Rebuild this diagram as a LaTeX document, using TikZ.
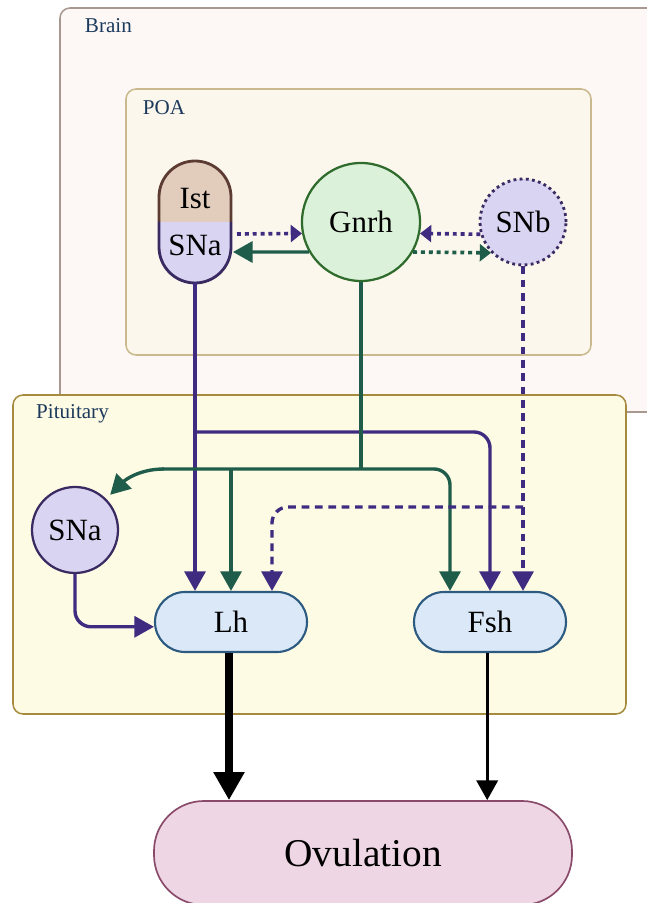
\documentclass[tikz,border=0pt]{standalone}
\usepackage{fontspec}
\setmainfont{Liberation Serif}
\usetikzlibrary{arrows.meta,positioning,calc}

\definecolor{brainfill}{HTML}{FDF8F6}
\definecolor{brainline}{HTML}{A8988F}
\definecolor{poafill}{HTML}{FBF7EC}
\definecolor{poaline}{HTML}{C9B98C}
\definecolor{pitfill}{HTML}{FEFBE5}
\definecolor{pitline}{HTML}{A68B3F}
\definecolor{labelblue}{HTML}{1C3A5C}
\definecolor{istfill}{HTML}{E2CCBC}
\definecolor{istline}{HTML}{5C3B33}
\definecolor{snafill}{HTML}{D9D4F1}
\definecolor{snaline}{HTML}{3A2A62}
\definecolor{gnrhfill}{HTML}{DCF1D9}
\definecolor{gnrhline}{HTML}{2F6B2C}
\definecolor{lhfill}{HTML}{DAE8F7}
\definecolor{lhline}{HTML}{2C5A80}
\definecolor{ovfill}{HTML}{EFD6E4}
\definecolor{ovline}{HTML}{8A4A6A}
\definecolor{purpleline}{HTML}{3F2B80}
\definecolor{greenline}{HTML}{1F5C4A}

\tikzset{
  region/.style = {rounded corners = 0.25cm, line width = 1.1pt},
  regionlabel/.style = {anchor = west, text = labelblue, font = \fontsize{15}{18}\selectfont},
  nodetext/.style = {font = \fontsize{22}{26}\selectfont},
  sacircle/.style = {circle, draw = snaline, fill = snafill, line width = 1.6pt, minimum size = 2.15cm, nodetext},
  hormone/.style = {rectangle, rounded corners = 0.75cm, draw = lhline, fill = lhfill, line width = 1.5pt,
                    minimum width = 3.8cm, minimum height = 1.5cm, nodetext},
  purplearrow/.style = {color = purpleline, line width = 2.4pt, -{Triangle[width = 15pt, length = 14pt]}},
  greenarrow/.style = {color = greenline, line width = 2.4pt, -{Triangle[width = 15pt, length = 14pt]}},
  dashpurple/.style = {purplearrow, dash pattern = on 5.5pt off 4pt},
  dotpurple/.style = {color = purpleline, line width = 2.6pt, dash pattern = on 2.8pt off 2.8pt,
                      -{Triangle[width = 12pt, length = 8pt]}},
  dotgreen/.style = {dotpurple, color = greenline}
}

\begin{document}
\begin{tikzpicture}
\useasboundingbox (0,0) rectangle (16.175,22.575);
% regions
\draw[region, draw = brainline, fill = brainfill] (1.5,12.275) rectangle (16.6,22.375);
\node[regionlabel] (brainlabel) at (2.0,21.93) {Brain};
\draw[region, draw = poaline, fill = poafill] (3.15,13.7) rectangle (14.775,20.35);
\node[regionlabel] (poalabel) at (3.45,19.88) {POA};
\draw[region, draw = pitline, fill = pitfill] (0.325,4.725) rectangle (15.65,12.7);
\node[regionlabel] (pitlabel) at (0.78,12.22) {Pituitary};

% Ist / SNa pill
\node[rectangle, minimum width = 1.8cm, minimum height = 3.05cm, inner sep = 0, outer sep = 0] (pill) at (4.875,17.025) {};
\fill[istfill] (pill.west) -- ++(0,0.625) arc [start angle = 180, end angle = 0, radius = 0.9] -- (pill.east) -- cycle;
\fill[snafill] (pill.west) -- ++(0,-0.625) arc [start angle = 180, end angle = 360, radius = 0.9] -- (pill.east) -- cycle;
\draw[istline, line width = 2pt] (pill.west) -- ++(0,0.625) arc [start angle = 180, end angle = 0, radius = 0.9] -- (pill.east);
\draw[snaline, line width = 2pt] (pill.west) -- ++(0,-0.625) arc [start angle = 180, end angle = 360, radius = 0.9] -- (pill.east);
\node[nodetext] (ist) at (4.875,17.62) {Ist};
\node[nodetext] (snapoa) at (4.875,16.44) {SNa};

% nodes
\node[circle, draw = gnrhline, fill = gnrhfill, line width = 1.6pt, minimum size = 2.95cm, nodetext] (gnrh) at (9.025,17.025) {Gnrh};
\node[sacircle, line width = 2pt, dash pattern = on 2pt off 2.4pt] (snb) at (13.075,17.025) {SNb};
\node[sacircle] (sna) at (1.875,9.325) {SNa};
\node[hormone] (lh) at (5.775,7.025) {Lh};
\node[hormone] (fsh) at (12.25,7.025) {Fsh};
\node[rectangle, rounded corners = 1.25cm, draw = ovline, fill = ovfill, line width = 1.2pt,
      minimum width = 10.45cm, minimum height = 2.6cm, font = \fontsize{28}{32}\selectfont] (ovul) at (9.075,1.25) {Ovulation};

% POA arrows
\draw[dotpurple] ([shift = {(0.15,-0.3)}]pill.east) -- (gnrh.191);
\draw[greenarrow] (gnrh.210) -- ([shift = {(0.05,-0.75)}]pill.east);
\draw[dotpurple] (snb.196) -- (gnrh.-11);
\draw[dotgreen] (gnrh.-30) -- (snb.224);

% join points
\coordinate (purplejoin) at (4.875,11.775);
\coordinate (greenjoin) at (9.025,10.85);
\coordinate (dashjoin) at (13.075,9.9);

% purple from pill
\draw[purplearrow] (pill.south) -- (pill.south |- lh.north);
\draw[purplearrow, rounded corners = 0.4cm] (purplejoin) -| (fsh.north);
% green from gnrh
\draw[greenline, line width = 2.4pt] (gnrh.south) -- (greenjoin);
\draw[greenarrow, rounded corners = 0.4cm] (4.05,10.85) -| ([xshift = -1cm]fsh.north);
\draw[greenarrow] (lh.north |- greenjoin) -- (lh.north);
\draw[greenarrow, shorten > = 4pt] (4.1,10.85) to[out = 180, in = 45] (sna);
% dashed from snb
\draw[dashpurple] (snb.south) -- (snb.south |- fsh.north);
\draw[dashpurple, rounded corners = 0.4cm] (dashjoin) -| ([xshift = 1.025cm]lh.north);
% pituitary sna
\draw[purplearrow, rounded corners = 0.4cm] (sna.south) |- ([yshift = -0.12cm]lh.west);

% to ovulation
\draw[line width = 5.4pt, -{Triangle[width = 21pt, length = 20pt]}] ([xshift = -0.05cm]lh.south) -- ([xshift = -0.05cm]lh.south |- ovul.north);
\draw[line width = 2.2pt, -{Triangle[width = 15pt, length = 14pt]}] ([xshift = -0.07cm]fsh.south) -- ([xshift = -0.07cm]fsh.south |- ovul.north);
\end{tikzpicture}
\end{document}
